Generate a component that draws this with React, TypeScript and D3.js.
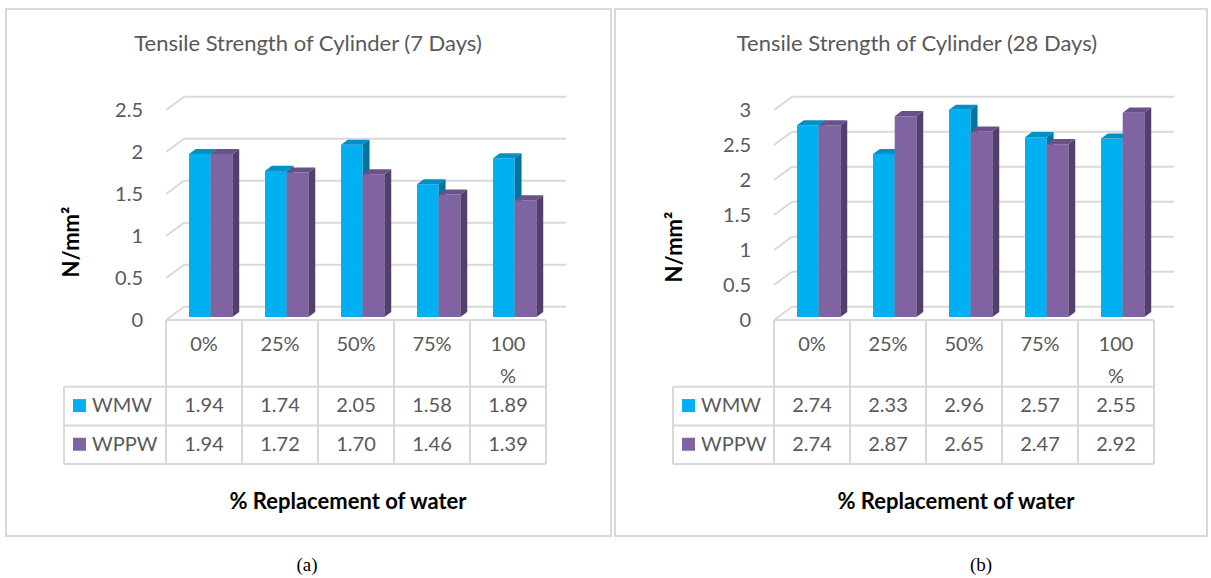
import React from "react";
import * as d3 from "d3";

const categories = ["0%", "25%", "50%", "75%", "100%"];
const seriesNames = ["WMW", "WPPW"];
const wmw7 = [1.94, 1.74, 2.05, 1.58, 1.89];
const wppw7 = [1.94, 1.72, 1.7, 1.46, 1.39];
const wmw28 = [2.74, 2.33, 2.96, 2.57, 2.55];
const wppw28 = [2.74, 2.87, 2.65, 2.47, 2.92];
const ticks7 = [0, 0.5, 1, 1.5, 2, 2.5];
const ticks28 = [0, 0.5, 1, 1.5, 2, 2.5, 3];

const FRONT = ["#00B0F0", "#8064A2"];
const TOP = ["#0090C4", "#6A5189"];
const SIDE = ["#00739E", "#533F6E"];
const GRID = "#D9D9D9";
const TXT = "#595959";
const FONT = "Lato, 'Open Sans', sans-serif";

const DX = 18;
const DY = 13.3;
const ZF = 0.22;
const ZB = 0.6;

type PanelProps = {
  px0: number;
  px1: number;
  tableLeft: number;
  legendLeft: number;
  yMax: number;
  pxPerUnit: number;
  ticks: number[];
  title: string;
  titleX: number;
  ylabX: number;
  ylabY: number;
  xTitleX: number;
  caption: string;
  captionX: number;
  values: number[][];
};

function Panel(p: PanelProps) {
  const colW = 76;
  const floorY = 320;
  const x = d3
    .scaleBand<string>()
    .domain(categories)
    .range([p.tableLeft, p.tableLeft + colW * categories.length])
    .paddingInner(0)
    .paddingOuter(0);
  const y = d3
    .scaleLinear()
    .domain([0, p.yMax])
    .range([floorY, floorY - p.yMax * p.pxPerUnit]);
  const tableRight = p.tableLeft + colW * categories.length;
  const fmt = d3.format(".2f");
  const pr = (sx: number, v: number, z: number) =>
    `${sx + z * DX},${y(v) - z * DY}`;
  const bw = 21.7;
  const off = 23 - ZF * DX;

  const rowTop = 320;
  const row1 = 386.7;
  const row2 = 425.5;
  const row3 = 464;

  return (
    <g>
      <rect
        x={p.px0}
        y={9}
        width={p.px1 - p.px0}
        height={527}
        fill="#fff"
        stroke={GRID}
        strokeWidth={2}
      />
      <text
        x={p.titleX}
        y={45}
        textAnchor="middle"
        dominantBaseline="middle"
        fontFamily={FONT}
        fontSize={22}
        fill={TXT}
      >
        {p.title}
      </text>
      {p.ticks.map((t) => (
        <g key={t}>
          <line
            x1={p.tableLeft}
            y1={y(t)}
            x2={p.tableLeft + DX}
            y2={y(t) - DY}
            stroke={GRID}
            strokeWidth={2}
          />
          <line
            x1={p.tableLeft + DX}
            y1={y(t) - DY}
            x2={tableRight + DX + 2}
            y2={y(t) - DY}
            stroke={GRID}
            strokeWidth={2}
          />
          <text
            x={p.tableLeft - 23}
            y={y(t) + 2}
            textAnchor="end"
            dominantBaseline="middle"
            fontFamily={FONT}
            fontSize={20}
            fill={TXT}
          >
            {t}
          </text>
        </g>
      ))}
      {categories.map((c, i) => (
        <g key={c}>
          {p.values.map((vals, s) => {
            const v = vals[i];
            const bx = (x(c) as number) + off + s * bw;
            return (
              <g key={s}>
                <polygon
                  points={[pr(bx, 0, ZF), pr(bx + bw, 0, ZF), pr(bx + bw, v, ZF), pr(bx, v, ZF)].join(" ")}
                  fill={FRONT[s]}
                />
                <polygon
                  points={[pr(bx, v, ZF), pr(bx + bw, v, ZF), pr(bx + bw, v, ZB), pr(bx, v, ZB)].join(" ")}
                  fill={TOP[s]}
                />
                <polygon
                  points={[pr(bx + bw, 0, ZF), pr(bx + bw, v, ZF), pr(bx + bw, v, ZB), pr(bx + bw, 0, ZB)].join(" ")}
                  fill={SIDE[s]}
                />
              </g>
            );
          })}
        </g>
      ))}
      <g stroke={GRID} strokeWidth={2}>
        <line x1={p.tableLeft} y1={rowTop} x2={tableRight} y2={rowTop} />
        <line x1={p.legendLeft} y1={row1} x2={tableRight} y2={row1} />
        <line x1={p.legendLeft} y1={row2} x2={tableRight} y2={row2} />
        <line x1={p.legendLeft} y1={row3} x2={tableRight} y2={row3} />
        <line x1={p.legendLeft} y1={row1} x2={p.legendLeft} y2={row3} />
        {d3.range(categories.length + 1).map((k) => (
          <line
            key={k}
            x1={p.tableLeft + k * colW}
            y1={rowTop}
            x2={p.tableLeft + k * colW}
            y2={row3}
          />
        ))}
      </g>
      {categories.map((c) => {
        const cx = (x(c) as number) + x.bandwidth() / 2;
        const lines = c.length > 3 ? [c.slice(0, -1), c.slice(-1)] : [c];
        return (
          <g key={c} fontFamily={FONT} fontSize={20} fill={TXT} textAnchor="middle">
            {lines.map((ln, li) => (
              <text key={li} x={cx} y={346 + li * 32} dominantBaseline="middle">
                {ln}
              </text>
            ))}
          </g>
        );
      })}
      {p.values.map((vals, s) => {
        const cy = s === 0 ? (row1 + row2) / 2 : (row2 + row3) / 2;
        return (
          <g key={s} fontFamily={FONT} fontSize={20} fill={TXT}>
            <rect x={p.legendLeft + 9} y={cy - 7} width={13} height={13} fill={FRONT[s]} />
            <text x={p.legendLeft + 28} y={cy + 1} dominantBaseline="middle">
              {seriesNames[s]}
            </text>
            {categories.map((c, i) => (
              <text
                key={c}
                x={(x(c) as number) + x.bandwidth() / 2}
                y={cy + 1}
                textAnchor="middle"
                dominantBaseline="middle"
              >
                {fmt(vals[i])}
              </text>
            ))}
          </g>
        );
      })}
      <text
        transform={`translate(${p.ylabX},${p.ylabY}) rotate(-90)`}
        textAnchor="middle"
        dominantBaseline="middle"
        fontFamily={FONT}
        fontWeight="bold"
        fontSize={22}
        fill="#000"
      >
        N/mm²
      </text>
      <text
        x={p.xTitleX}
        y={503}
        textAnchor="middle"
        dominantBaseline="middle"
        fontFamily={FONT}
        fontWeight="bold"
        fontSize={22}
        fill="#000"
      >
        % Replacement of water
      </text>
      <text
        x={p.captionX}
        y={567}
        textAnchor="middle"
        dominantBaseline="middle"
        fontFamily="'Liberation Serif', serif"
        fontSize={19}
        fill="#000"
      >
        {p.caption}
      </text>
    </g>
  );
}

export default function App() {
  return (
    <svg
      width={1211}
      height={578}
      style={{ position: "absolute", left: 0, top: 0, background: "#fff" }}
    >
      <rect width={1211} height={578} fill="#fff" />
      <Panel
        px0={6}
        px1={611}
        tableLeft={166}
        legendLeft={64}
        yMax={2.5}
        pxPerUnit={84}
        ticks={ticks7}
        title="Tensile Strength of Cylinder (7 Days)"
        titleX={308}
        ylabX={73}
        ylabY={242}
        xTitleX={348}
        caption="(a)"
        captionX={307}
        values={[wmw7, wppw7]}
      />
      <Panel
        px0={615}
        px1={1207}
        tableLeft={774}
        legendLeft={673}
        yMax={3}
        pxPerUnit={70}
        ticks={ticks28}
        title="Tensile Strength of Cylinder (28 Days)"
        titleX={917}
        ylabX={676}
        ylabY={247}
        xTitleX={956}
        caption="(b)"
        captionX={981}
        values={[wmw28, wppw28]}
      />
    </svg>
  );
}
